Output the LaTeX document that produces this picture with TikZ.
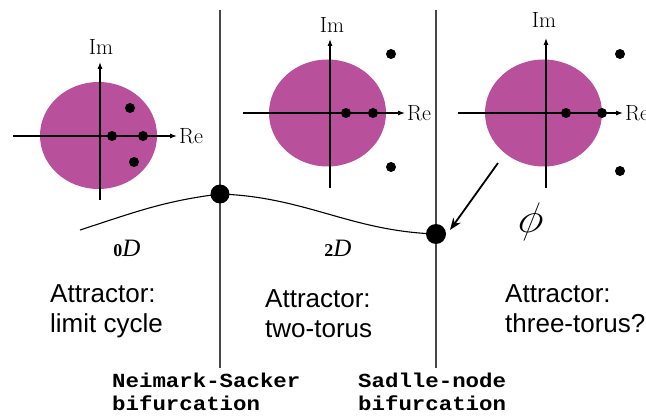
\documentclass[tikz,border=0pt]{standalone}
\usepackage{fontspec}
\setsansfont{Liberation Sans}
\newfontfamily\biffont[FakeStretch=1.12]{Liberation Mono}
\newfontfamily\timesf{Liberation Serif}
\usetikzlibrary{arrows.meta,shapes.geometric}
\definecolor{diskc}{RGB}{184,80,155}
\definecolor{vgrey}{RGB}{70,70,70}
\begin{document}
\begin{tikzpicture}[x=1pt,y=-1pt,
  disk/.style={ellipse, fill=diskc, draw=none, inner sep=0, minimum width=117pt, minimum height=107pt},
  axis/.style={line width=1.1pt, -{Latex[length=7pt,width=5pt]}},
  sdot/.style={circle, fill=black, inner sep=0, minimum size=10pt},
  bdot/.style={circle, fill=black, inner sep=0, minimum size=19pt},
  vline/.style={draw=vgrey, line width=1.2pt},
  curve/.style={draw=black, line width=1.1pt},
  lbl/.style={font=\fontsize{22}{22}\selectfont, inner sep=0},
  attr/.style={font=\sffamily\fontsize{26}{30}\selectfont, align=left, anchor=base west, inner sep=0},
  bif/.style={font=\biffont\bfseries\fontsize{20}{23}\selectfont, align=left, anchor=base west, inner sep=0},
  dlbl/.style={font=\timesf\fontsize{25}{25}\selectfont, anchor=base, inner sep=0},
  bigarrow/.style={draw=black, line width=1.8pt, -{Stealth[length=12pt,width=9pt]}}
]
\useasboundingbox (0,0) rectangle (646,417);

% vertical separator lines
\coordinate (v1t) at (220,10); \coordinate (v1b) at (220,368);
\coordinate (v2t) at (436,10); \coordinate (v2b) at (436,368);
\draw[vline] (v1t) -- (v1b);
\draw[vline] (v2t) -- (v2b);

% ---------- panel 1 ----------
\node[disk] (d1) at (98.5,135.5) {};
\coordinate (a1l) at (13,136); \coordinate (a1r) at (177,136);
\coordinate (a1b) at (100,200); \coordinate (a1t) at (100,62);
\draw[axis] (a1l) -- (a1r);
\draw[axis] (a1b) -- (a1t);
\node[lbl, anchor=base] (im1) at (101,55) {Im};
\node[lbl, anchor=west, inner sep=2pt] (re1) at (a1r) {Re};
\node[sdot] (p1a) at (130,108) {};
\node[sdot] (p1b) at (112,136) {};
\node[sdot] (p1c) at (143,136) {};
\node[sdot] (p1d) at (134,162) {};

% ---------- panel 2 ----------
\node[disk] (d2) at (327.5,113) {};
\coordinate (a2l) at (243,113); \coordinate (a2r) at (405,113);
\coordinate (a2b) at (330,188); \coordinate (a2t) at (330,39);
\draw[axis] (a2l) -- (a2r);
\draw[axis] (a2b) -- (a2t);
\node[lbl, anchor=base] (im2) at (332,33) {Im};
\node[lbl, anchor=west, inner sep=2pt] (re2) at (a2r) {Re};
\node[sdot] (p2a) at (346,113) {};
\node[sdot] (p2b) at (373,113) {};
\node[sdot] (p2c) at (391,54) {};
\node[sdot] (p2d) at (391,167) {};

% ---------- panel 3 ----------
\node[disk] (d3) at (543.5,113) {};
\coordinate (a3l) at (458,113); \coordinate (a3r) at (623,113);
\coordinate (a3b) at (546,188); \coordinate (a3t) at (546,38);
\draw[axis] (a3l) -- (a3r);
\draw[axis] (a3b) -- (a3t);
\node[lbl, anchor=base] (im3) at (544,28) {Im};
\node[lbl, anchor=west, inner sep=2pt] (re3) at (a3r) {Re};
\node[sdot] (p3a) at (566,113) {};
\node[sdot] (p3b) at (602,113) {};
\node[sdot] (p3c) at (620,54) {};
\node[sdot] (p3d) at (620,171) {};

% ---------- curve and bifurcation points ----------
\coordinate (cs) at (80,230);
\coordinate (nsc) at (220,194);
\coordinate (snc) at (436,234);
\draw[curve] (cs) to[out=18,in=187] (nsc) to[out=-2,in=178] (snc);
\node[bdot] (ns) at (nsc) {};
\node[bdot, minimum size=20pt] (sn) at (snc) {};

% arrow from third disk to saddle-node point
\coordinate (arS) at (498,163);
\coordinate (arE) at (450,230);
\draw[bigarrow] (arS) -- (arE);

\node[font=\Huge, scale=1.72, xslant=0.15, inner sep=0] (phi) at (531,222) {$\phi$};

% dimension labels
\node[dlbl] (zd) at (127,256) {{\bfseries\fontsize{18}{18}\selectfont 0}\textit{D}};
\node[dlbl] (td) at (338,256) {{\bfseries\fontsize{18}{18}\selectfont 2}\textit{D}};

% attractor texts (anchor base = baseline of last line)
\node[attr] (t1) at (50,332) {Attractor:\\limit cycle};
\node[attr] (t2) at (265,337) {Attractor:\\two-torus};
\node[attr] (t3) at (505,332) {Attractor:\\three-torus?};

% bifurcation names
\node[bif] (b1) at (112,410) {Neimark-Sacker\\bifurcation};
\node[bif] (b2) at (358,410) {Sadlle-node\\bifurcation};
\end{tikzpicture}
\end{document}
